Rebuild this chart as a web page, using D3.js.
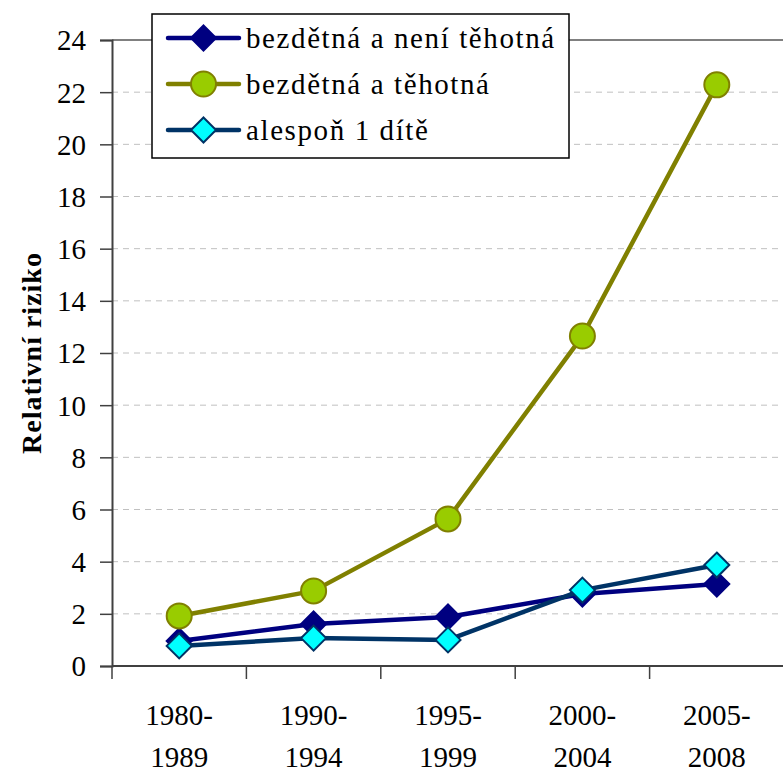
<!DOCTYPE html>
<html>
<head>
<meta charset="utf-8">
<script src="https://cdn.jsdelivr.net/npm/d3@7"></script>
<style>
  body { margin: 0; background: #fff; }
</style>
</head>
<body>
<svg id="chart"></svg>
<script>
const width = 783;
const height = 773;
const serif = "'Liberation Serif'";

const categories = [["1980-", "1989"], ["1990-", "1994"], ["1995-", "1999"], ["2000-", "2004"], ["2005-", "2008"]];
const yTicks = [0, 2, 4, 6, 8, 10, 12, 14, 16, 18, 20, 22, 24];

const notPregnant = [0.96, 1.61, 1.88, 2.76, 3.14];
const pregnant = [1.92, 2.88, 5.64, 12.65, 22.28];
const atLeastOne = [0.77, 1.07, 1.0, 2.91, 3.87];

const series = [
  { name: "bezdětná a není těhotná", values: notPregnant, line: "#000080", fill: "#000080", stroke: "#000080", shape: "diamond" },
  { name: "bezdětná a těhotná", values: pregnant, line: "#808000", fill: "#99cc00", stroke: "#808000", shape: "circle" },
  { name: "alespoň 1 dítě", values: atLeastOne, line: "#003366", fill: "#00ffff", stroke: "#003366", shape: "diamond" }
];

const margin = { top: 40, right: -1, bottom: 107, left: 112 };

const svg = d3.select("#chart")
  .attr("width", width)
  .attr("height", height)
  .style("font-family", serif);

const x = d3.scaleBand()
  .domain(d3.range(categories.length))
  .range([margin.left, width - margin.right]);

const y = d3.scaleLinear()
  .domain([0, 24])
  .range([height - margin.bottom, margin.top]);

// gridlines
svg.append("g")
  .selectAll("line")
  .data(yTicks.filter(d => d > 0 && d < 24))
  .join("line")
  .attr("x1", margin.left)
  .attr("x2", width)
  .attr("y1", d => y(d))
  .attr("y2", d => y(d))
  .attr("stroke", "#c0c0c0")
  .attr("stroke-width", 1)
  .attr("stroke-dasharray", "6,5");

// top frame
svg.append("line")
  .attr("x1", margin.left).attr("x2", width)
  .attr("y1", y(24)).attr("y2", y(24))
  .attr("stroke", "#808080").attr("stroke-width", 2);

// y axis
const yAxis = svg.append("g")
  .attr("transform", `translate(${margin.left},0)`)
  .call(d3.axisLeft(y).tickValues(yTicks).tickSize(12).tickPadding(14));
yAxis.attr("font-family", null).attr("font-size", null);
yAxis.select(".domain").attr("stroke", "#404040").attr("stroke-width", 2);
yAxis.selectAll(".tick line").attr("stroke", "#404040").attr("stroke-width", 1.5);
yAxis.selectAll(".tick text")
  .style("font-family", serif)
  .attr("font-size", 29)
  .attr("dy", "0.34em")
  .attr("fill", "#000");

// x axis
const xAxisY = y(0);
svg.append("line")
  .attr("x1", margin.left).attr("x2", width)
  .attr("y1", xAxisY).attr("y2", xAxisY)
  .attr("stroke", "#404040").attr("stroke-width", 2);

svg.append("g")
  .selectAll("line")
  .data(d3.range(categories.length + 1))
  .join("line")
  .attr("x1", d => margin.left + d * x.step())
  .attr("x2", d => margin.left + d * x.step())
  .attr("y1", xAxisY)
  .attr("y2", xAxisY + 13)
  .attr("stroke", "#404040")
  .attr("stroke-width", 1.5);

const xLabels = svg.append("g")
  .selectAll("text")
  .data(categories)
  .join("text")
  .attr("text-anchor", "middle")
  .attr("font-size", 29)
  .style("font-family", serif)
  .attr("x", (d, i) => x(i) + x.bandwidth() / 2);
xLabels.append("tspan")
  .attr("x", (d, i) => x(i) + x.bandwidth() / 2)
  .attr("y", 725)
  .text(d => d[0]);
xLabels.append("tspan")
  .attr("x", (d, i) => x(i) + x.bandwidth() / 2)
  .attr("y", 767)
  .text(d => d[1]);

// y title
svg.append("text")
  .attr("transform", `translate(41,${(y(0) + y(24)) / 2}) rotate(-90)`)
  .attr("text-anchor", "middle")
  .attr("font-size", 28)
  .attr("font-weight", "bold")
  .attr("letter-spacing", 1)
  .style("font-family", serif)
  .text("Relativní riziko");

// lines and markers
const cx = i => x(i) + x.bandwidth() / 2;
const line = d3.line().x((d, i) => cx(i)).y(d => y(d));

function drawMarker(g, s, px, py) {
  if (s.shape === "circle") {
    g.append("circle")
      .attr("cx", px).attr("cy", py).attr("r", 12.5)
      .attr("fill", s.fill).attr("stroke", s.stroke).attr("stroke-width", 2);
  } else {
    const r = 12.5;
    g.append("path")
      .attr("d", `M${px},${py - r}L${px + r},${py}L${px},${py + r}L${px - r},${py}Z`)
      .attr("fill", s.fill).attr("stroke", s.stroke).attr("stroke-width", 2);
  }
}

series.forEach(s => {
  const g = svg.append("g");
  g.append("path")
    .datum(s.values)
    .attr("d", line)
    .attr("fill", "none")
    .attr("stroke", s.line)
    .attr("stroke-width", 4.5)
    .attr("stroke-linejoin", "round");
  s.values.forEach((v, i) => drawMarker(g, s, cx(i), y(v)));
});

// legend
const legend = svg.append("g");
legend.append("rect")
  .attr("x", 152).attr("y", 14)
  .attr("width", 417).attr("height", 144)
  .attr("fill", "#fff")
  .attr("stroke", "#000")
  .attr("stroke-width", 1.5);

series.forEach((s, i) => {
  const ly = 38 + i * 46;
  legend.append("line")
    .attr("x1", 168).attr("x2", 239)
    .attr("y1", ly).attr("y2", ly)
    .attr("stroke", s.line).attr("stroke-width", 4.5)
    .attr("stroke-linecap", "round");
  drawMarker(legend, s, 203.5, ly);
  legend.append("text")
    .attr("x", 246)
    .attr("y", ly + 10)
    .attr("font-size", 29)
    .attr("letter-spacing", 1.6)
    .style("font-family", serif)
    .text(s.name);
});
</script>
</body>
</html>
